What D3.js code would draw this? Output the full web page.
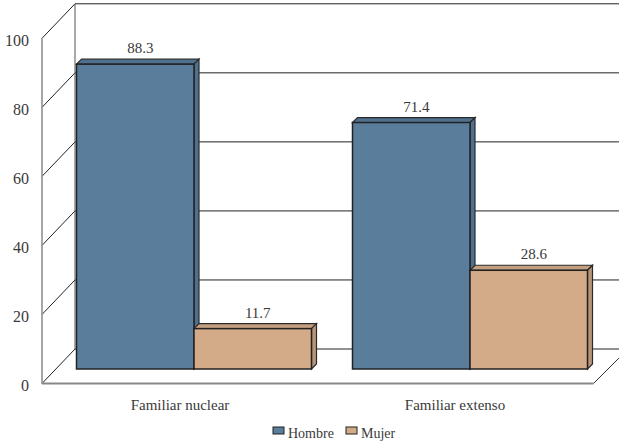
<!DOCTYPE html>
<html><head><meta charset="utf-8">
<script src="https://cdn.jsdelivr.net/npm/d3@7"></script>
<style>html,body{margin:0;padding:0;background:#fff}svg{display:block}text{font-family:"Liberation Serif",serif;fill:#3a3a3a}</style>
</head><body><svg id="c" width="619" height="443"></svg>
<script>
const categories = ["Familiar nuclear", "Familiar extenso"];
const seriesNames = ["Hombre", "Mujer"];
const hombre = [88.3, 71.4];
const mujer = [11.7, 28.6];
const ticks = [0, 20, 40, 60, 80, 100];
const colors = ["#5a7d9c", "#d3ab89"];
const sides = ["#4f7190", "#b89578"];
const tops = ["#4f7190", "#c49f80"];

const W = 619, H = 443;
const svg = d3.select("#c");
svg.append("defs").append("clipPath").attr("id","pg").append("rect").attr("width",W).attr("height",H);
const depthX = 33, depthY = 34.5, barZ = 14.5, barD = 5;
const y = d3.scaleLinear().domain([0,100]).range([383.5,38.3]);
const x = d3.scaleBand().domain(categories).range([42,594]);
const xs = d3.scaleBand().domain(seriesNames).range([34.5,269.5]);
const root = svg.append("g").attr("clip-path","url(#pg)");

// walls
root.append("g").selectAll("line").data(ticks).join("line")
  .attr("x1",42).attr("y1",d=>y(d)).attr("x2",42+depthX).attr("y2",d=>y(d)-depthY)
  .attr("stroke","#222").attr("stroke-width",1);
root.append("g").selectAll("line").data(ticks).join("line")
  .attr("x1",42+depthX).attr("y1",d=>y(d)-depthY).attr("x2",630).attr("y2",d=>y(d)-depthY)
  .attr("stroke","#222").attr("stroke-width",1);
root.append("line").attr("x1",75).attr("x2",75).attr("y1",y(0)-depthY).attr("y2",y(100)-depthY).attr("stroke","#555");
root.append("line").attr("x1",593.5).attr("y1",y(0)).attr("x2",593.5+depthX).attr("y2",y(0)-depthX).attr("stroke","#333");
// axes
root.append("line").attr("x1",42).attr("x2",42).attr("y1",y(100)).attr("y2",y(0)).attr("stroke","#888").attr("stroke-width",1.5);
root.append("line").attr("x1",42).attr("x2",593.5).attr("y1",y(0)).attr("y2",y(0)).attr("stroke","#888").attr("stroke-width",2);

// bars
const barData = [];
categories.forEach((c,i)=>{
  barData.push({c,s:0,v:hombre[i]});
  barData.push({c,s:1,v:mujer[i]});
});
const base = y(0)-barZ;
const h = v => y(0)-y(v);
const g = root.append("g");
const bar = g.selectAll("g").data(barData).join("g");
const X0 = d => x(d.c)+xs(seriesNames[d.s]);
const X1 = d => X0(d)+xs.bandwidth();
bar.append("path").attr("fill",d=>tops[d.s]).attr("stroke","#2a2a2a").attr("stroke-width",1.2)
  .attr("d",d=>{const t=base-h(d.v);return `M${X0(d)},${t}L${X0(d)+barD},${t-barD}L${X1(d)+barD},${t-barD}L${X1(d)},${t}Z`;});
bar.append("path").attr("fill",d=>sides[d.s]).attr("stroke","#2a2a2a").attr("stroke-width",1.2)
  .attr("d",d=>{const t=base-h(d.v);return `M${X1(d)},${t}L${X1(d)+barD},${t-barD}L${X1(d)+barD},${base-barD}L${X1(d)},${base}Z`;});
bar.append("rect").attr("x",X0).attr("y",d=>base-h(d.v)).attr("width",xs.bandwidth()).attr("height",d=>h(d.v))
  .attr("fill",d=>colors[d.s]).attr("stroke","#222").attr("stroke-width",1.5);
bar.append("text").attr("x",d=>(X0(d)+X1(d))/2+5).attr("y",d=>base-h(d.v)-11).attr("text-anchor","middle")
  .attr("font-size",15).text(d=>d.v.toFixed(1));

// labels
svg.append("g").selectAll("text").data(ticks).join("text")
  .attr("x",29).attr("y",d=>y(d)+7.5).attr("text-anchor","end").attr("font-size",16).text(d=>d);
svg.append("g").selectAll("text").data(categories).join("text")
  .attr("x",(d,i)=>x(d)+x.bandwidth()/2-i).attr("y",410).attr("text-anchor","middle").attr("font-size",15).text(d=>d);

// legend
const lx = [273,346];
const leg = svg.append("g").selectAll("g").data(seriesNames).join("g");
leg.append("rect").attr("x",(d,i)=>lx[i]).attr("y",427).attr("width",11).attr("height",7)
  .attr("fill",(d,i)=>colors[i]).attr("stroke","#222").attr("stroke-width",1);
leg.append("text").attr("x",(d,i)=>lx[i]+15).attr("y",438).attr("font-size",14).text(d=>d);
</script></body></html>
